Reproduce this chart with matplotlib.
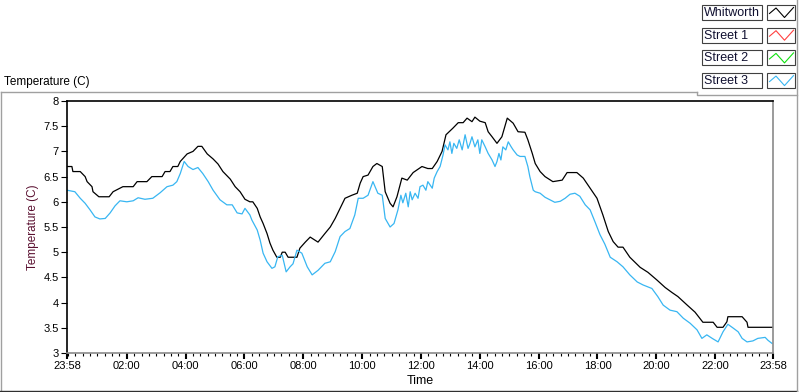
import numpy as np
import matplotlib.pyplot as plt
from matplotlib.patches import Rectangle

plt.rcParams['font.family'] = ['Liberation Sans', 'DejaVu Sans']

# time is in minutes after 23:58 of the previous day
whit_min = [0, 10, 12, 27, 37, 41, 51, 53, 65, 86, 94, 114, 135, 143, 163, 173,
            194, 200, 210, 216, 226, 231, 245, 257, 267, 275, 286, 298, 308, 318,
            333, 343, 353, 363, 373, 379, 388, 394, 400, 408, 414, 420, 428, 435,
            439, 445, 451, 469, 475, 486, 496, 512, 526, 537, 547, 557, 567, 581,
            592, 598, 604, 614, 624, 632, 643, 649, 659, 665, 673, 683, 694, 706,
            724, 736, 745, 755, 765, 773, 787, 798, 808, 816, 826, 832, 842, 853,
            859, 867, 877, 887, 898, 910, 920, 934, 940, 949, 955, 965, 975, 991,
            1010, 1020, 1040, 1053, 1067, 1081, 1093, 1104, 1114, 1124, 1134, 1148,
            1169, 1185, 1203, 1220, 1234, 1246, 1265, 1281, 1297, 1318, 1326, 1338,
            1346, 1348, 1377, 1387, 1389, 1440]
whit_temp = [6.7, 6.7, 6.6, 6.6, 6.5, 6.4, 6.3, 6.2, 6.1, 6.1, 6.2, 6.3, 6.3, 6.4,
             6.4, 6.5, 6.5, 6.6, 6.6, 6.7, 6.7, 6.8, 6.95, 7.0, 7.1, 7.1, 6.95, 6.85,
             6.75, 6.6, 6.45, 6.3, 6.2, 6.05, 6.0, 6.0, 5.87, 5.7, 5.57, 5.37, 5.18,
             5.04, 4.9, 4.9, 5.0, 5.0, 4.9, 4.9, 5.08, 5.2, 5.3, 5.2, 5.37, 5.5,
             5.67, 5.87, 6.07, 6.13, 6.17, 6.37, 6.5, 6.53, 6.7, 6.76, 6.7, 6.2,
             5.97, 5.9, 6.1, 6.47, 6.43, 6.58, 6.7, 6.66, 6.66, 6.8, 7.0, 7.33, 7.46,
             7.57, 7.57, 7.66, 7.59, 7.68, 7.6, 7.57, 7.39, 7.29, 7.16, 7.29, 7.66,
             7.56, 7.39, 7.38, 7.23, 6.96, 6.76, 6.6, 6.5, 6.4, 6.43, 6.58, 6.58,
             6.47, 6.27, 6.07, 5.74, 5.41, 5.21, 5.1, 5.1, 4.9, 4.7, 4.6, 4.45, 4.3,
             4.2, 4.12, 3.95, 3.81, 3.61, 3.61, 3.51, 3.51, 3.62, 3.72, 3.72, 3.61,
             3.51, 3.51]

st3_min = [0, 16, 27, 37, 47, 57, 67, 78, 88, 98, 108, 122, 135, 145, 159, 175,
           190, 204, 216, 224, 231, 239, 247, 257, 267, 277, 288, 298, 312, 326,
           337, 347, 357, 363, 373, 377, 388, 394, 400, 408, 418, 424, 430, 439,
           447, 455, 461, 469, 479, 490, 500, 512, 526, 537, 547, 557, 567, 577,
           587, 594, 604, 614, 624, 634, 643, 649, 659, 667,
           675, 681, 685, 691, 696, 700, 704, 710, 716, 720, 726, 732, 736, 745,
           749, 755, 761, 767, 771, 777, 781, 785, 789, 795, 800, 806, 812, 818,
           822, 826, 832, 838, 842, 846, 853, 859, 867, 873, 877, 881, 885, 889,
           895, 900, 906, 910, 918, 924, 934, 940, 944, 951,
           955, 965, 975,
           985, 995, 1006, 1016, 1026, 1036, 1046, 1057, 1067, 1077, 1087, 1097,
           1108, 1122, 1134, 1148, 1163, 1175, 1193, 1205, 1216, 1230, 1244, 1257,
           1271, 1285, 1295, 1305, 1316, 1328, 1338, 1348, 1358, 1369, 1377, 1387,
           1399, 1409, 1424, 1430, 1438]
st3_temp = [6.23, 6.2, 6.07, 5.97, 5.84, 5.7, 5.66, 5.67, 5.78, 5.92, 6.02, 6.0,
            6.02, 6.08, 6.05, 6.07, 6.18, 6.3, 6.33, 6.4, 6.56, 6.8, 6.7, 6.64,
            6.68, 6.56, 6.4, 6.23, 6.04, 5.94, 5.94, 5.78, 5.76, 5.87, 5.74, 5.64,
            5.44, 5.24, 4.98, 4.81, 4.68, 4.71, 4.91, 4.94, 4.61, 4.71, 4.77, 5.04,
            4.98, 4.71, 4.55, 4.64, 4.78, 4.81, 5.01, 5.31, 5.41, 5.47, 5.74, 6.07,
            6.07, 6.13, 6.4, 6.17, 6.13, 5.67, 5.5, 5.57,
            5.84, 6.13, 5.98, 6.17, 5.9, 6.2, 6.04, 6.17, 6.07, 6.3, 6.33, 6.23,
            6.4, 6.27, 6.47, 6.6, 6.7, 6.93, 7.13, 7.03, 7.19, 6.96, 7.16, 7.06,
            7.23, 7.03, 7.33, 7.06, 7.16, 7.29, 7.09, 7.23, 6.96, 7.23, 7.09, 6.96,
            6.83, 6.7, 6.8, 6.96, 6.83, 7.09, 7.03, 7.19, 7.09, 7.03, 6.93, 6.9,
            6.9, 6.7, 6.5, 6.23,
            6.2, 6.17, 6.09,
            6.04, 5.99, 6.01, 6.07, 6.15, 6.17, 6.11, 5.94, 5.84,
            5.6, 5.35, 5.16, 4.9, 4.81, 4.71, 4.55, 4.41, 4.35, 4.28, 4.12, 3.95,
            3.85, 3.82, 3.69, 3.59, 3.46, 3.29, 3.36, 3.29, 3.22, 3.42, 3.57, 3.5,
            3.42, 3.29, 3.22, 3.24, 3.29, 3.31, 3.25, 3.19]

tick_min = [0, 122, 242, 362, 482, 602, 722, 842, 962, 1082, 1202, 1322, 1440]
tick_lab = ['23:58', '02:00', '04:00', '06:00', '08:00', '10:00', '12:00',
            '14:00', '16:00', '18:00', '20:00', '22:00', '23:58']
minor_min = [m for m in range(2, 1440, 15) if m not in tick_min]
y_ticks = [3, 3.5, 4, 4.5, 5, 5.5, 6, 6.5, 7, 7.5, 8]

names = ['Whitworth', 'Street 1', 'Street 2', 'Street 3']
colors = ['black', '#ff4040', '#10e010', '#38b6f2']

fig = plt.figure(figsize=(8, 3.92), dpi=100)
ax = fig.add_axes([67/800, 39/392, 706/800, 252/392])
ax.plot(whit_min, whit_temp, color=colors[0], lw=0.9)
ax.plot(st3_min, st3_temp, color=colors[3], lw=0.9)
ax.set_xlim(0, 1440)
ax.set_ylim(3, 8)

ax.set_yticks(y_ticks)
ax.set_yticklabels(['%g' % v for v in y_ticks], fontsize=8)
ax.set_xticks(tick_min)
ax.set_xticklabels(tick_lab, fontsize=8)
ax.set_xticks(minor_min, minor=True)
ax.tick_params(axis='y', direction='out', length=4, width=0.8, pad=2)
ax.tick_params(axis='x', which='major', direction='out', length=4, width=1.5, pad=2)
ax.tick_params(axis='x', which='minor', direction='out', length=2.5, width=0.8)

for s in ['left', 'top']:
    ax.spines[s].set_color('black')
    ax.spines[s].set_linewidth(1.2)
for s in ['right', 'bottom']:
    ax.spines[s].set_color('#8a8a8a')
    ax.spines[s].set_linewidth(1.2)

ax.set_ylabel('Temperature (C)', fontsize=8.5, color='#5a1030', labelpad=3)
ax.set_xlabel('Time', fontsize=9, labelpad=3)

# panel frame, caption and legend, drawn in pixel space
ov = fig.add_axes([0, 0, 1, 1], zorder=5)
ov.set_xlim(0, 800)
ov.set_ylim(392, 0)
ov.axis('off')
ov.patch.set_alpha(0)

ov.plot([0.5, 697], [91.5, 91.5], color='#a0a0a0', lw=1)
ov.plot([0.5, 0.5], [91.5, 391], color='#a0a0a0', lw=1)
ov.plot([0, 797], [391, 391], color='#303030', lw=1)
ov.plot([697, 697, 797], [91.5, 94.5, 94.5], color='#a0a0a0', lw=1)
ov.plot([796.5, 796.5], [0, 391], color='#a0a0a0', lw=1)

ov.text(4, 82, 'Temperature (C)', fontsize=8.5, va='center', ha='left')

for i, (nm, c) in enumerate(zip(names, colors)):
    y0 = 5 + i * 22.7
    ov.add_patch(Rectangle((702, y0), 60, 15, fill=True, fc='white',
                           ec='#404040', lw=0.8))
    ov.text(704, y0 + 7.8, nm, fontsize=9, va='center', ha='left',
            color='#101030')
    ov.add_patch(Rectangle((767, y0), 28, 15, fill=True, fc='white',
                           ec='#404040', lw=0.8))
    ov.plot([769.5, 776, 784.5, 793.5],
            [y0 + 8.5, y0 + 3, y0 + 12.5, y0 + 2.5], color=c, lw=0.8)

fig.savefig('out.png', dpi=100)
